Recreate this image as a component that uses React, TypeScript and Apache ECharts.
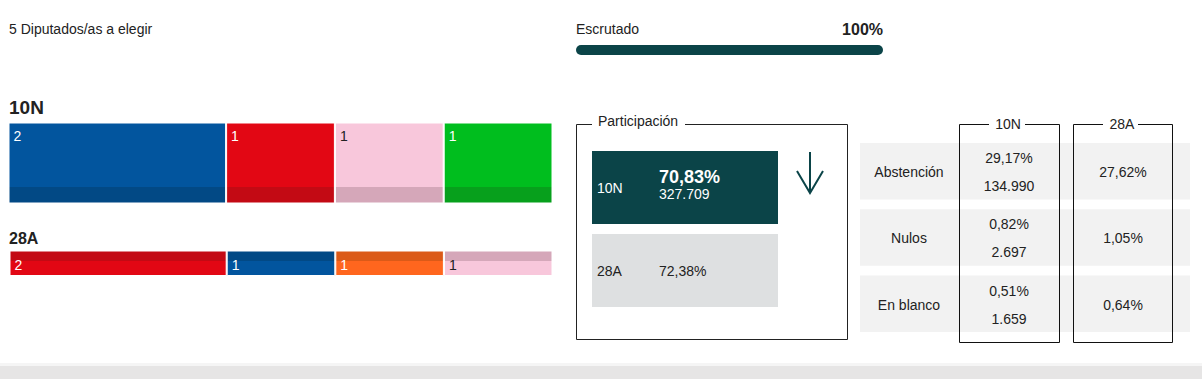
import React, { useEffect, useRef } from "react";
import * as echarts from "echarts";

// ---- data ----
const totalSeats = 5;
const escrutado = 100;
const seats10N = [2, 1, 1, 1];
const colors10N = ["#02559e", "#e20714", "#f8c7db", "#00be1e"];
const dark10N = ["#024985", "#c30a14", "#d5a7b9", "#07a01c"];
const seats28A = [2, 1, 1, 1];
const colors28A = ["#e20714", "#02559e", "#ff661e", "#f8c7db"];
const dark28A = ["#c30a14", "#024985", "#db5a18", "#d5a7b9"];

const partic10N = "70,83%";
const votantes10N = "327.709";
const partic28A = "72,38%";

const tableRows = ["Abstención", "Nulos", "En blanco"];
const pct10N = ["29,17%", "0,82%", "0,51%"];
const abs10N = ["134.990", "2.697", "1.659"];
const pct28A = ["27,62%", "1,05%", "0,64%"];

const FONT = '"Liberation Sans", Arial, Helvetica, sans-serif';
const TEAL = "#0b4448";
const INK = "#222222";

function txt(text: string, x: number, y: number, o: any = {}) {
  const align = o.align || "left";
  return {
    type: "text",
    silent: true,
    style: {
      text,
      x,
      y,
      fill: o.fill || INK,
      fontSize: o.size || 14,
      fontWeight: o.weight || "normal",
      fontFamily: FONT,
      align,
      textAlign: align,
      verticalAlign: "middle",
      textVerticalAlign: "middle",
    },
  };
}

function grad(light: string, dark: string, darkTop: boolean, frac: number) {
  const stops = darkTop
    ? [
        { offset: 0, color: dark },
        { offset: frac, color: dark },
        { offset: frac, color: light },
        { offset: 1, color: light },
      ]
    : [
        { offset: 0, color: light },
        { offset: 1 - frac, color: light },
        { offset: 1 - frac, color: dark },
        { offset: 1, color: dark },
      ];
  return new echarts.graphic.LinearGradient(0, 0, 0, 1, stops);
}

export default function App() {
  const ref = useRef<HTMLDivElement>(null);
  useEffect(() => {
    if (!ref.current) return;
    const chart = echarts.init(ref.current, null, { renderer: "svg" });

    const series: any[] = [];
    seats10N.forEach((v, i) => {
      series.push({
        type: "bar",
        name: "10N-" + i,
        xAxisIndex: 0,
        yAxisIndex: 0,
        stack: "10N",
        barWidth: "100%",
        data: [v],
        silent: true,
        itemStyle: {
          color: grad(colors10N[i], dark10N[i], false, 0.2),
          borderColor: "#ffffff",
          borderWidth: 1,
        },
        label: {
          show: true,
          position: [5, 13],
          align: "left",
          verticalAlign: "middle",
          color: colors10N[i] === "#f8c7db" ? INK : "#ffffff",
          fontSize: 14,
          fontFamily: FONT,
        },
      });
    });
    seats28A.forEach((v, i) => {
      series.push({
        type: "bar",
        name: "28A-" + i,
        xAxisIndex: 1,
        yAxisIndex: 1,
        stack: "28A",
        barWidth: "100%",
        data: [v],
        silent: true,
        itemStyle: {
          color: grad(colors28A[i], dark28A[i], true, 0.4),
          borderColor: "#ffffff",
          borderWidth: 1,
        },
        label: {
          show: true,
          position: [5, 14],
          align: "left",
          verticalAlign: "middle",
          color: colors28A[i] === "#f8c7db" ? INK : "#ffffff",
          fontSize: 14,
          fontFamily: FONT,
        },
      });
    });
    series.push({
      type: "bar",
      name: "Escrutado",
      xAxisIndex: 2,
      yAxisIndex: 2,
      barWidth: "100%",
      data: [escrutado],
      silent: true,
      itemStyle: { color: TEAL, borderRadius: 5 },
    });

    const g: any[] = [];
    // header
    g.push(txt("5 Diputados/as a elegir", 9, 29, { size: 14 }));
    g.push(txt("Escrutado", 576, 29, { size: 14 }));
    g.push(txt(escrutado + "%", 883, 29, { size: 16, weight: "bold", align: "right" }));
    g.push(txt("10N", 9, 107, { size: 19, weight: "bold" }));
    g.push(txt("28A", 9, 238.5, { size: 16, weight: "bold" }));

    // participation box
    g.push({
      type: "polyline",
      silent: true,
      shape: {
        points: [
          [592, 124.5],
          [576.5, 124.5],
          [576.5, 339.5],
          [847.5, 339.5],
          [847.5, 124.5],
          [685, 124.5],
        ],
      },
      style: { stroke: INK, lineWidth: 1, fill: null },
    });
    g.push(txt("Participación", 598, 121, { size: 14 }));
    g.push({
      type: "rect",
      silent: true,
      shape: { x: 592, y: 151, width: 186, height: 73 },
      style: { fill: TEAL },
    });
    g.push(txt("10N", 597, 188, { fill: "#ffffff" }));
    g.push(txt(partic10N, 659, 177, { fill: "#ffffff", size: 18, weight: "bold" }));
    g.push(txt(votantes10N, 659, 194, { fill: "#ffffff", size: 14 }));
    g.push({
      type: "rect",
      silent: true,
      shape: { x: 592, y: 234, width: 186, height: 73 },
      style: { fill: "#dee0e1" },
    });
    g.push(txt("28A", 597, 271));
    g.push(txt(partic28A, 659, 271));
    // arrow
    g.push({
      type: "line",
      silent: true,
      shape: { x1: 810, y1: 152, x2: 810, y2: 193 },
      style: { stroke: TEAL, lineWidth: 2 },
    });
    g.push({
      type: "polyline",
      silent: true,
      shape: { points: [[797, 171], [810, 193], [823, 171]] },
      style: { stroke: TEAL, lineWidth: 2, fill: null },
    });

    // table rows
    tableRows.forEach((lab, i) => {
      const top = 143 + i * 66.3;
      g.push({
        type: "rect",
        silent: true,
        shape: { x: 860, y: top, width: 330, height: 56.5 },
        style: { fill: "#f2f2f2" },
      });
      g.push(txt(lab, 909, top + 29, { align: "center" }));
      g.push(txt(pct10N[i], 1009, top + 15, { align: "center" }));
      g.push(txt(abs10N[i], 1009, top + 43, { align: "center" }));
      g.push(txt(pct28A[i], 1123, top + 29, { align: "center" }));
    });
    // column boxes
    const colBox = (x0: number, x1: number, g0: number, g1: number, title: string, cx: number) => {
      g.push({
        type: "polyline",
        silent: true,
        shape: {
          points: [
            [g0, 124.5],
            [x0, 124.5],
            [x0, 342.5],
            [x1, 342.5],
            [x1, 124.5],
            [g1, 124.5],
          ],
        },
        style: { stroke: "#111111", lineWidth: 1, fill: null },
      });
      g.push(txt(title, cx, 124, { align: "center" }));
    };
    colBox(959.5, 1059.5, 989, 1025, "10N", 1008);
    colBox(1073.5, 1172.5, 1103, 1138, "28A", 1122);

    // bottom band
    g.push({
      type: "rect",
      silent: true,
      shape: { x: 0, y: 363, width: 1202, height: 3 },
      style: { fill: "#f5f5f5" },
    });
    g.push({
      type: "rect",
      silent: true,
      shape: { x: 0, y: 366, width: 1202, height: 13 },
      style: { fill: "#e6e5e5" },
    });

    chart.setOption({
      animation: false,
      grid: [
        { left: 8.5, top: 122.5, width: 544, height: 81 },
        { left: 9.5, top: 250.5, width: 543, height: 25.5 },
        { left: 576, top: 45, width: 307, height: 10 },
      ],
      xAxis: [
        { type: "value", gridIndex: 0, min: 0, max: totalSeats, show: false },
        { type: "value", gridIndex: 1, min: 0, max: totalSeats, show: false },
        { type: "value", gridIndex: 2, min: 0, max: 100, show: false },
      ],
      yAxis: [
        { type: "category", gridIndex: 0, data: ["10N"], show: false },
        { type: "category", gridIndex: 1, data: ["28A"], show: false },
        { type: "category", gridIndex: 2, data: ["Escrutado"], show: false },
      ],
      series,
      graphic: g,
    });
    return () => chart.dispose();
  }, []);
  return (
    <div
      ref={ref}
      style={{ position: "fixed", left: 0, top: 0, width: 1202, height: 379, background: "#ffffff" }}
    />
  );
}
